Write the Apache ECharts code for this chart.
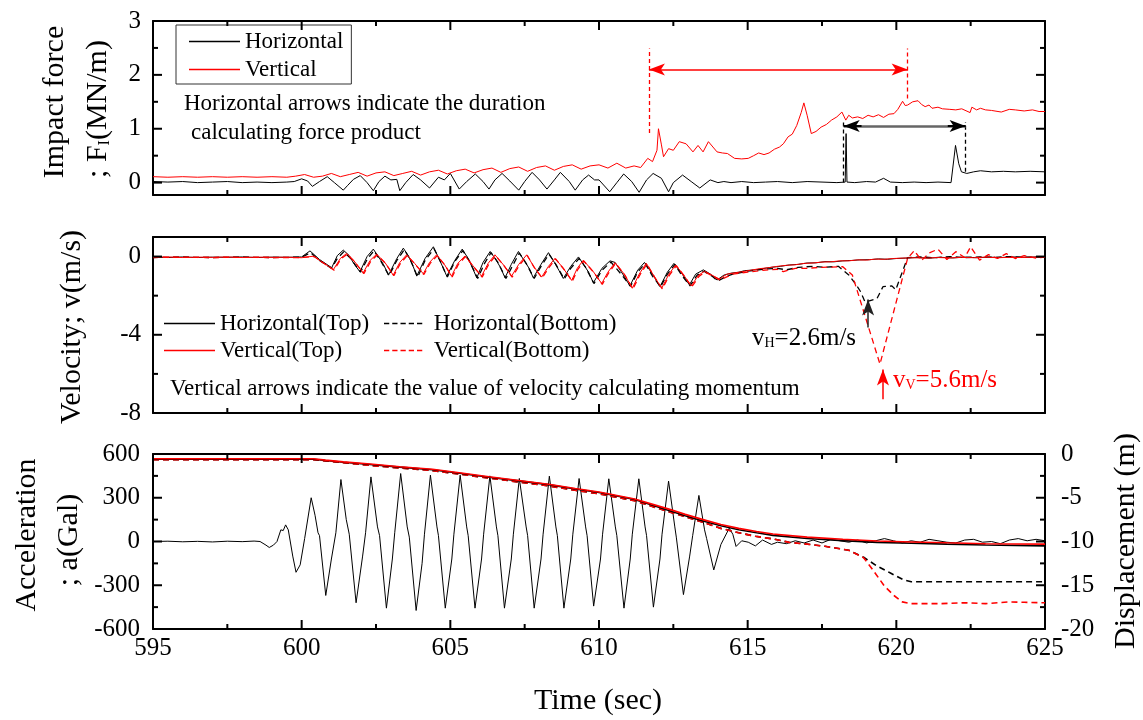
<!DOCTYPE html>
<html><head><meta charset="utf-8">
<script src="https://cdn.jsdelivr.net/npm/echarts@6/dist/echarts.min.js"></script>
<style>html,body{margin:0;padding:0;background:#fff}#c{width:1143px;height:720px}</style>
</head><body><div id="c"></div>
<script>
const FONT = '"Liberation Serif", "Times New Roman", serif';

// ---------- tick values / labels ----------
const timeRange = [595, 625];
const timeMajorTicks = [595, 600, 605, 610, 615, 620, 625];
const timeMinorTicks = [597.5, 602.5, 607.5, 612.5, 617.5, 622.5];
const forceTicks = [0, 1, 2, 3];
const forceMinorTicks = [0.5, 1.5, 2.5];
const velTicks = [-8, -4, 0];
const velMinorTicks = [-6, -2];
const accelTicks = [-600, -300, 0, 300, 600];
const accelMinorTicks = [-450, -150, 150, 450];
const dispTicks = [-20, -15, -10, -5, 0];
const dispMinorTicks = [-17.5, -12.5, -7.5, -2.5];

// ---------- Panel 1: impact force (MN/m) ----------
const forceH = [[595,0.02],[595.5,0.01],[596,0.02],[596.5,0.0],[597,0.01],[597.5,0.02],[598,0.0],[598.5,0.01],[599,0.0],[599.5,0.01],[599.75,0.02],
[600.0,0.07],[600.2,0.03],[600.36,-0.07],[600.6,0.02],[600.86,0.11],[601.1,0.0],[601.4,-0.14],[601.55,-0.05],[601.74,0.06],[601.97,0.13],[602.2,0.0],[602.41,-0.15],[602.6,0.02],[602.8,0.12],[603.0,0.05],[603.2,0.06],[603.3,-0.15],[603.5,0.0],[603.75,0.15],[604.0,0.05],[604.3,-0.1],[604.6,0.1],[604.8,0.05],[605.0,0.17],[605.3,-0.12],[605.55,0.02],[605.84,0.16],[606.1,0.02],[606.3,-0.12],[606.5,0.05],[606.74,0.17],[607.0,0.03],[607.3,-0.14],[607.5,0.02],[607.75,0.19],[608.0,0.05],[608.25,-0.12],[608.5,0.05],[608.7,0.19],[609.0,0.02],[609.2,-0.14],[609.45,0.05],[609.65,0.14],[609.85,0.05],[610.0,0.05],[610.36,-0.17],[610.6,0.0],[610.83,0.16],[611.1,0.02],[611.35,-0.18],[611.6,0.05],[611.82,0.17],[612.1,0.08],[612.34,-0.17],[612.5,0.0],[612.81,0.14],[613.1,0.02],[613.39,-0.1],[613.74,0.05],[614.0,0.0],[614.2,0.02],[614.44,0.0],[614.8,0.02],[615.2,0.0],[615.6,0.01],[616.0,0.02],[616.5,0.0],[617.0,0.02],[617.5,0.01],[618.0,0.0],[618.28,0.01],[618.31,0.91],[618.34,0.01],[618.6,0.0],[619.0,0.02],[619.3,0.01],[619.57,0.08],[619.8,0.01],[620.2,0.0],[620.6,0.01],[621.0,0.0],[621.4,0.01],[621.84,0.0],[621.99,0.69],[622.1,0.35],[622.19,0.2],[622.37,0.17],[622.6,0.2],[622.83,0.22],[623.2,0.2],[623.6,0.21],[624.0,0.2],[624.5,0.21],[625,0.2]];

const forceV = [[595,0.11],[595.5,0.1],[596,0.11],[596.5,0.1],[597,0.11],[597.5,0.1],[598,0.11],[598.5,0.1],[599,0.11],[599.5,0.1],[599.8,0.12],[600.1,0.15],[600.4,0.1],[600.7,0.12],[601.0,0.17],[601.3,0.11],[601.6,0.15],[601.9,0.19],[602.2,0.12],[602.5,0.18],[602.8,0.2],[603.1,0.13],[603.4,0.17],[603.7,0.21],[604.0,0.14],[604.3,0.2],[604.6,0.23],[604.9,0.16],[605.2,0.22],[605.5,0.25],[605.8,0.18],[606.1,0.24],[606.4,0.27],[606.7,0.19],[607.0,0.26],[607.3,0.29],[607.6,0.21],[607.9,0.28],[608.2,0.31],[608.5,0.23],[608.8,0.3],[609.1,0.33],[609.4,0.25],[609.7,0.31],[610.0,0.33],[610.3,0.27],[610.6,0.36],[610.9,0.27],[611.18,0.31],[611.4,0.28],[611.64,0.45],[611.8,0.39],[611.95,0.6],[612.0,1.0],[612.1,0.7],[612.17,0.48],[612.34,0.63],[612.5,0.6],[612.7,0.76],[612.93,0.72],[613.16,0.57],[613.33,0.69],[613.5,0.57],[613.68,0.76],[613.97,0.57],[614.15,0.55],[614.32,0.54],[614.56,0.45],[614.8,0.44],[615.02,0.45],[615.2,0.5],[615.37,0.55],[615.55,0.52],[615.72,0.55],[615.9,0.62],[616.07,0.66],[616.2,0.72],[616.36,0.85],[616.5,0.9],[616.65,1.06],[616.8,1.3],[616.89,1.48],[617.0,1.25],[617.14,0.91],[617.3,0.95],[617.47,1.03],[617.65,1.08],[617.82,1.16],[618.0,1.22],[618.17,1.31],[618.3,1.16],[618.4,1.25],[618.52,1.2],[618.7,1.22],[618.87,1.19],[619.05,1.25],[619.22,1.22],[619.4,1.26],[619.57,1.21],[619.75,1.27],[619.92,1.28],[620.05,1.36],[620.21,1.51],[620.3,1.43],[620.38,1.44],[620.55,1.5],[620.73,1.52],[620.85,1.45],[620.97,1.41],[621.1,1.44],[621.2,1.38],[621.4,1.4],[621.55,1.37],[621.8,1.36],[622.0,1.35],[622.2,1.37],[622.48,1.3],[622.54,1.4],[622.7,1.35],[622.83,1.38],[623.0,1.35],[623.2,1.34],[623.53,1.31],[623.8,1.36],[624.0,1.35],[624.3,1.33],[624.58,1.35],[624.8,1.32],[625,1.32]];

// annotation positions (time, force) for the duration arrows
const durV = {t0: 611.68, t1: 620.38, y: 2.1, top: 2.49, base0: 0.92, base1: 1.56};
const durH = {t0: 618.23, t1: 622.33, y: 1.05, top: 1.12, base0: 0.0, base1: 0.2};

// ---------- Panel 2: velocity (m/s) ----------
const velHTop = [[595,-0.03],[595.5,-0.05],[596,-0.02],[596.5,-0.05],[597,-0.03],[597.5,-0.04],[598,-0.02],[598.5,-0.05],[599,-0.03],[599.5,-0.04],[600,-0.02],[600.28,0.29],[600.6,-0.15],[601.01,-0.57],[601.2,0.05],[601.4,0.33],[601.6,0.05],[601.75,-0.35],[601.96,-0.78],[602.2,0.0],[602.41,0.38],[602.6,-0.05],[602.75,-0.4],[602.92,-0.95],[603.2,-0.1],[603.42,0.43],[603.6,0.0],[603.75,-0.5],[603.87,-1.0],[604.15,-0.1],[604.43,0.5],[604.6,-0.05],[604.75,-0.55],[604.88,-1.0],[605.15,-0.2],[605.4,0.38],[605.6,-0.1],[605.75,-0.6],[605.89,-1.09],[606.1,-0.3],[606.34,0.26],[606.55,-0.2],[606.7,-0.6],[606.84,-1.09],[607.05,-0.4],[607.29,0.26],[607.5,-0.25],[607.65,-0.6],[607.79,-1.09],[608.05,-0.4],[608.3,0.2],[608.5,-0.3],[608.65,-0.7],[608.8,-1.12],[609.05,-0.5],[609.31,-0.02],[609.5,-0.45],[609.65,-0.8],[609.81,-1.34],[610.1,-0.6],[610.37,-0.22],[610.54,-0.3],[610.8,-0.9],[611.04,-1.5],[611.3,-0.7],[611.53,-0.3],[611.8,-0.9],[612.05,-1.54],[612.3,-0.8],[612.52,-0.35],[612.8,-0.9],[613.04,-1.45],[613.25,-0.9],[613.51,-0.68],[613.75,-0.9],[613.97,-1.2],[614.2,-0.95],[614.44,-0.85],[614.7,-0.8],[614.9,-0.72],[615.26,-0.68],[615.5,-0.62],[615.8,-0.55],[616.1,-0.5],[616.4,-0.43],[616.7,-0.4],[617.0,-0.33],[617.3,-0.32],[617.6,-0.26],[617.9,-0.27],[618.2,-0.22],[618.5,-0.2],[618.75,-0.17],[619.1,-0.16],[619.4,-0.12],[619.7,-0.14],[620.0,-0.1],[620.3,-0.08],[620.7,-0.05],[621.1,-0.08],[621.5,-0.04],[621.9,-0.07],[622.3,-0.03],[622.7,-0.06],[623.1,-0.03],[623.5,-0.05],[623.9,-0.02],[624.3,-0.04],[624.7,-0.02],[625,-0.03]];

const velHBot = [[595,-0.05],[596,-0.03],[597,-0.05],[598,-0.03],[599,-0.05],[600,-0.03],[600.3,0.2],[600.6,-0.2],[601.0,-0.6],[601.2,-0.1],[601.42,0.25],[601.65,-0.1],[601.98,-0.8],[602.2,-0.15],[602.43,0.3],[602.65,-0.2],[602.94,-0.98],[603.2,-0.2],[603.45,0.35],[603.65,-0.15],[603.9,-1.05],[604.15,-0.2],[604.45,0.4],[604.65,-0.2],[604.9,-1.05],[605.15,-0.25],[605.42,0.3],[605.65,-0.25],[605.92,-1.12],[606.15,-0.35],[606.37,0.2],[606.6,-0.3],[606.87,-1.12],[607.1,-0.45],[607.32,0.18],[607.55,-0.35],[607.82,-1.12],[608.05,-0.5],[608.32,0.12],[608.55,-0.4],[608.83,-1.15],[609.05,-0.6],[609.33,-0.1],[609.55,-0.55],[609.83,-1.38],[610.1,-0.7],[610.4,-0.28],[610.8,-1.0],[611.06,-1.52],[611.3,-0.8],[611.55,-0.35],[611.8,-1.0],[612.07,-1.55],[612.3,-0.9],[612.55,-0.4],[612.8,-1.0],[613.06,-1.5],[613.3,-0.95],[613.53,-0.75],[613.8,-1.0],[614.0,-1.25],[614.3,-1.0],[614.5,-0.9],[615.0,-0.75],[615.5,-0.65],[616.0,-0.6],[616.3,-0.68],[616.7,-0.55],[617.2,-0.5],[617.6,-0.55],[618.05,-0.5],[618.4,-0.94],[618.65,-1.45],[618.8,-1.8],[618.95,-2.33],[619.35,-2.15],[619.55,-1.54],[619.85,-1.5],[619.98,-1.7],[620.38,-0.05],[620.8,-0.02],[621.3,-0.06],[621.8,0.0],[622.3,-0.05],[622.8,-0.02],[623.3,-0.04],[623.8,0.0],[624.3,-0.03],[625,-0.02]];

const velVTop = [[595,-0.03],[595.5,-0.02],[596,-0.05],[596.5,-0.03],[597,-0.04],[597.5,-0.02],[598,-0.05],[598.5,-0.03],[599,-0.04],[599.5,-0.03],[600,-0.06],[600.4,0.02],[600.7,-0.3],[601.07,-0.66],[601.3,-0.1],[601.51,0.16],[601.75,-0.2],[602.07,-0.83],[602.3,-0.2],[602.52,0.12],[602.8,-0.3],[603.08,-0.95],[603.3,-0.3],[603.53,0.09],[603.8,-0.35],[604.09,-0.88],[604.3,-0.3],[604.54,0.09],[604.8,-0.4],[605.04,-1.0],[605.25,-0.35],[605.49,0.03],[605.75,-0.45],[606.05,-1.0],[606.27,-0.35],[606.5,0.09],[606.8,-0.45],[607.06,-1.0],[607.3,-0.4],[607.57,0.09],[607.8,-0.5],[608.07,-1.05],[608.3,-0.5],[608.52,-0.09],[608.8,-0.6],[609.08,-1.22],[609.27,-0.6],[609.47,-0.19],[609.8,-0.75],[610.09,-1.38],[610.3,-0.8],[610.54,-0.31],[610.85,-0.9],[611.12,-1.62],[611.35,-0.9],[611.59,-0.34],[611.85,-1.0],[612.11,-1.62],[612.35,-0.9],[612.58,-0.43],[612.85,-0.95],[613.1,-1.5],[613.35,-0.95],[613.55,-0.75],[613.8,-0.95],[614.05,-1.15],[614.3,-0.9],[614.5,-0.85],[614.8,-0.78],[615.1,-0.7],[615.4,-0.62],[615.7,-0.57],[616.0,-0.5],[616.3,-0.45],[616.6,-0.42],[616.9,-0.35],[617.2,-0.33],[617.5,-0.28],[617.8,-0.27],[618.1,-0.22],[618.4,-0.22],[618.7,-0.17],[619.0,-0.18],[619.3,-0.13],[619.6,-0.14],[619.9,-0.1],[620.2,-0.08],[620.6,-0.06],[621.0,-0.08],[621.4,-0.05],[621.8,-0.07],[622.2,-0.04],[622.6,-0.06],[623.0,-0.03],[623.4,-0.06],[623.8,-0.04],[624.2,-0.05],[624.6,-0.03],[625,-0.04]];

const velVBot = [[595,-0.05],[596,-0.03],[597,-0.05],[598,-0.04],[599,-0.05],[600,-0.05],[600.42,0.0],[600.72,-0.32],[601.09,-0.7],[601.32,-0.12],[601.53,0.12],[601.77,-0.25],[602.09,-0.87],[602.32,-0.25],[602.54,0.08],[602.82,-0.35],[603.1,-0.98],[603.32,-0.35],[603.55,0.05],[603.82,-0.4],[604.11,-0.92],[604.32,-0.35],[604.56,0.05],[604.82,-0.45],[605.06,-1.04],[605.27,-0.4],[605.51,0.0],[605.77,-0.5],[606.07,-1.05],[606.29,-0.4],[606.52,0.05],[606.82,-0.5],[607.08,-1.05],[607.32,-0.45],[607.59,0.05],[607.82,-0.55],[608.09,-1.1],[608.32,-0.55],[608.54,-0.12],[608.82,-0.65],[609.1,-1.26],[609.29,-0.65],[609.49,-0.23],[609.82,-0.8],[610.11,-1.42],[610.32,-0.85],[610.56,-0.35],[610.87,-0.95],[611.14,-1.66],[611.37,-0.95],[611.61,-0.38],[611.87,-1.05],[612.13,-1.65],[612.37,-0.95],[612.6,-0.47],[612.87,-1.0],[613.12,-1.55],[613.37,-1.0],[613.57,-0.8],[613.82,-1.0],[614.07,-1.2],[614.5,-0.9],[615.0,-0.8],[615.5,-0.7],[616.0,-0.65],[616.2,-0.77],[616.6,-0.6],[617.0,-0.6],[617.5,-0.55],[618.2,-0.52],[618.52,-0.94],[619.45,-5.5],[620.38,-0.09],[620.6,0.3],[620.85,-0.2],[621.1,0.18],[621.4,0.38],[621.7,-0.15],[622.0,0.25],[622.3,-0.05],[622.5,0.5],[622.8,-0.18],[623.1,0.1],[623.4,-0.1],[623.7,0.15],[624.0,-0.1],[624.3,0.05],[624.7,-0.08],[625,-0.03]];

// peak-velocity arrows (time, tail velocity, tip velocity)
const arrowVH = {t: 619.05, from: -3.63, to: -2.2};
const arrowVV = {t: 619.55, from: -7.3, to: -5.78};

// ---------- Panel 3: acceleration (Gal) & displacement (m) ----------
const accel = [[595,0],[595.5,2],[596,-2],[596.5,1],[597,-3],[597.5,2],[598,-1],[598.4,3],[598.6,0],[598.8,-25],[598.91,-41],[599.05,-25],[599.17,0],[599.3,80],[599.38,75],[599.46,114],[599.55,80],[599.7,-100],[599.81,-211],[599.95,-160],[600.1,20],[600.32,300],[600.45,180],[600.55,60],[600.6,40],[600.81,-370],[601.0,-120],[601.15,60],[601.32,425],[601.5,150],[601.6,50],[601.83,-420],[602.05,-100],[602.15,60],[602.33,443],[602.55,100],[602.62,40],[602.85,-457],[603.05,-120],[603.13,60],[603.33,466],[603.55,100],[603.62,30],[603.85,-473],[604.05,-150],[604.13,50],[604.33,455],[604.55,100],[604.6,40],[604.83,-457],[605.05,-120],[605.12,50],[605.33,455],[605.55,100],[605.6,40],[605.83,-457],[606.05,-120],[606.12,50],[606.33,450],[606.55,100],[606.6,40],[606.82,-457],[607.05,-120],[607.12,50],[607.32,432],[607.55,100],[607.6,40],[607.82,-457],[608.05,-120],[608.12,50],[608.33,448],[608.55,100],[608.6,40],[608.82,-457],[609.05,-120],[609.12,50],[609.33,432],[609.55,100],[609.6,40],[609.82,-443],[610.05,-120],[610.12,50],[610.33,430],[610.55,100],[610.6,40],[610.84,-457],[611.05,-120],[611.12,50],[611.34,430],[611.55,100],[611.6,40],[611.83,-450],[612.05,-120],[612.12,50],[612.34,414],[612.55,100],[612.6,30],[612.84,-364],[613.05,-100],[613.15,40],[613.36,316],[613.55,80],[613.62,20],[613.86,-195],[614.1,-20],[614.38,91],[614.5,50],[614.61,-34],[614.8,5],[615.02,-5],[615.26,-30],[615.5,10],[615.8,-20],[616.0,-5],[616.3,-15],[616.6,5],[616.9,-10],[617.2,10],[617.5,-10],[617.8,15],[618.1,5],[618.4,-5],[618.7,10],[619.0,-10],[619.3,5],[619.6,20],[619.9,5],[620.2,-10],[620.5,5],[620.8,-5],[621.1,15],[621.4,5],[621.7,-5],[622.0,-10],[622.3,10],[622.6,15],[622.9,-5],[623.2,0],[623.5,-15],[623.8,10],[624.1,20],[624.4,5],[624.7,15],[625,5]];

const dispHTop = [[595,-0.6],[600.4,-0.6],[600.8,-0.75],[601.4,-0.95],[602.3,-1.2],[603.3,-1.5],[604.4,-1.8],[605.3,-2.2],[606.3,-2.65],[607.3,-3.07],[608.3,-3.5],[609.2,-4.0],[610,-4.4],[610.6,-4.8],[611.2,-5.2],[611.75,-5.8],[612.35,-6.45],[612.9,-7.05],[613.5,-7.65],[614.1,-8.2],[614.7,-8.65],[615.3,-9.0],[615.85,-9.3],[617,-9.65],[618.2,-9.9],[619.35,-10.1],[620.5,-10.2],[621.7,-10.3],[623,-10.4],[625,-10.5]];
const dispVTop = [[595,-0.55],[600.4,-0.55],[600.8,-0.7],[601.4,-0.9],[602.3,-1.15],[603.3,-1.45],[604.4,-1.75],[605.3,-2.15],[606.3,-2.6],[607.3,-3.02],[608.3,-3.45],[609.2,-3.95],[610,-4.35],[610.6,-4.75],[611.2,-5.15],[611.75,-5.7],[612.35,-6.3],[612.9,-6.9],[613.5,-7.5],[614.1,-8.05],[614.7,-8.5],[615.3,-8.85],[615.85,-9.15],[617,-9.5],[618.2,-9.75],[619.35,-9.95],[620.5,-10.05],[621.7,-10.15],[623,-10.25],[625,-10.3]];
const dispHBot = [[595,-0.65],[600.4,-0.65],[601.4,-1.0],[602.3,-1.3],[603.3,-1.6],[604.4,-1.9],[605.3,-2.3],[606.3,-2.75],[607.3,-3.2],[608.3,-3.65],[609.2,-4.15],[610,-4.55],[611.2,-5.35],[612.35,-6.6],[613.5,-7.8],[614.1,-8.5],[614.7,-9.0],[615.26,-9.4],[615.84,-9.7],[616.4,-10.1],[617.0,-10.3],[617.6,-10.55],[618.4,-11.0],[618.9,-11.8],[619.35,-12.8],[619.8,-13.6],[620.25,-14.4],[620.5,-14.6],[622,-14.6],[625,-14.6]];
const dispVBot = [[595,-0.65],[600.4,-0.65],[601.4,-1.0],[602.3,-1.3],[603.3,-1.6],[604.4,-1.9],[605.3,-2.3],[606.3,-2.75],[607.3,-3.2],[608.3,-3.65],[609.2,-4.15],[610,-4.55],[611.2,-5.35],[612.35,-6.6],[613.5,-7.8],[614.1,-8.5],[614.7,-9.0],[615.26,-9.4],[615.84,-9.7],[616.4,-10.1],[617.0,-10.3],[617.6,-10.55],[618.4,-11.0],[618.9,-11.85],[619.2,-13.2],[619.6,-15.1],[619.93,-16.2],[620.2,-16.9],[620.5,-17.1],[621.5,-17.1],[622.3,-17.0],[623.0,-17.1],[623.8,-16.9],[624.3,-16.95],[625,-17.0]];

// ---------- build ----------
const BLACK = '#000', RED = '#ff0000';
const MAJOR = 9, MINOR = 5;
const labelStyle = {fontFamily: FONT, fontSize: 25, color: BLACK};
function axLine() { return {show: true, onZero: false, lineStyle: {color: BLACK, width: 2}}; }

function xAx(g, pos, labels) {
  return {type: 'value', gridIndex: g, position: pos, min: timeRange[0], max: timeRange[1], interval: 5,
    axisLine: axLine(), splitLine: {show: false}, axisTick: {show: false}, minorTick: {show: false},
    axisLabel: Object.assign({show: labels, margin: 7}, labelStyle)};
}
function yAx(g, pos, min, max, labels, margin) {
  return {type: 'value', gridIndex: g, position: pos, min: min, max: max,
    axisLine: axLine(), splitLine: {show: false}, axisTick: {show: false}, minorTick: {show: false},
    axisLabel: labels ? Object.assign({show: true, customValues: labels, margin: margin}, labelStyle) : {show: false}};
}
function line(name, data, xi, yi, color, dashed, width) {
  return {name: name, type: 'line', data: data, xAxisIndex: xi, yAxisIndex: yi, symbol: 'none', showSymbol: false,
    animation: false,
    lineStyle: {color: color, width: width || 1, type: dashed ? [6, 4] : 'solid'},
    itemStyle: {color: color}};
}
function seg(a, b, color, style, s0, s1, width) {
  return [{coord: a, symbol: s0 || 'none', lineStyle: {color: color, type: style, width: width || 1.3}, itemStyle: {color: color}},
          {coord: b, symbol: s1 || 'none'}];
}
// tick marks drawn inside the frame through the axes' scales.
// item = [kind, value, length]; kind 0: time tick (bottom+top), 1: left, 2: right, 3: left+right
function tickItems(kind, values, len) { return values.map(v => [kind, v, len]); }
function tickSeries(xi, yi, yMin, yMax, items) {
  return {type: 'custom', name: 'ticks' + yi, xAxisIndex: xi, yAxisIndex: yi, data: items,
    clip: false, silent: true, animation: false, z: 6,
    renderItem: function (params, api) {
      const kind = api.value(0), v = api.value(1), len = api.value(2);
      const st = {stroke: BLACK, lineWidth: 2};
      const kids = [];
      if (kind === 0) {
        const b = api.coord([v, yMin]), t = api.coord([v, yMax]);
        kids.push({type: 'line', shape: {x1: b[0], y1: b[1], x2: b[0], y2: b[1] - len}, style: st});
        kids.push({type: 'line', shape: {x1: t[0], y1: t[1], x2: t[0], y2: t[1] + len}, style: st});
      } else {
        const l = api.coord([timeRange[0], v]), r = api.coord([timeRange[1], v]);
        if (kind === 1 || kind === 3) kids.push({type: 'line', shape: {x1: l[0], y1: l[1], x2: l[0] + len, y2: l[1]}, style: st});
        if (kind === 2 || kind === 3) kids.push({type: 'line', shape: {x1: r[0], y1: r[1], x2: r[0] - len, y2: r[1]}, style: st});
      }
      return {type: 'group', children: kids};
    }};
}

const grids = [
  {left: 153, right: 98, top: 21, height: 174},
  {left: 153, right: 98, top: 237, height: 176},
  {left: 153, right: 98, top: 454, height: 175}
].map(g => Object.assign(g, {show: false, containLabel: false}));

const fMin = -0.23, fMax = 3;
const yAxes = [
  yAx(0, 'left', fMin, fMax, forceTicks, 12),   // 0
  yAx(0, 'right', fMin, fMax, null),            // 1
  yAx(1, 'left', -8, 1, velTicks, 12),          // 2
  yAx(1, 'right', -8, 1, null),                 // 3
  yAx(2, 'left', -600, 600, accelTicks, 13),    // 4
  yAx(2, 'right', -20, 0, dispTicks, 16)        // 5
];
const xAxes = [xAx(0, 'bottom', false), xAx(0, 'top', false), xAx(1, 'bottom', false), xAx(1, 'top', false), xAx(2, 'bottom', true), xAx(2, 'top', false)];

const timeTickItems = tickItems(0, timeMajorTicks, MAJOR).concat(tickItems(0, timeMinorTicks, MINOR));

const annot1 = {name: 'annot1', type: 'line', data: [], xAxisIndex: 0, yAxisIndex: 0, animation: false,
  markLine: {silent: true, animation: false, symbolSize: [9, 16], label: {show: false},
    data: [
      seg([durV.t0, durV.base0], [durV.t0, durV.top], RED, [4, 3]),
      seg([durV.t1, durV.base1], [durV.t1, durV.top], RED, [4, 3]),
      seg([durV.t0, durV.y], [durV.t1, durV.y], RED, 'solid', 'arrow', 'arrow', 1.5),
      seg([durH.t0, durH.base0], [durH.t0, durH.top], BLACK, [4, 3]),
      seg([durH.t1, durH.base1], [durH.t1, durH.top], BLACK, [4, 3]),
      seg([durH.t0, durH.y], [durH.t1, durH.y], '#666', 'solid', 'none', 'none', 2.5),
      seg([durH.t0 + 0.6, durH.y], [durH.t0, durH.y], BLACK, 'solid', 'none', 'arrow', 2),
      seg([durH.t1 - 0.6, durH.y], [durH.t1, durH.y], BLACK, 'solid', 'none', 'arrow', 2)
    ]}};
const annot2 = {name: 'annot2', type: 'line', data: [], xAxisIndex: 2, yAxisIndex: 2, animation: false,
  markLine: {silent: true, animation: false, symbolSize: [9, 16], label: {show: false},
    data: [
      seg([arrowVH.t, arrowVH.from], [arrowVH.t, arrowVH.to], '#222', 'solid', 'none', 'arrow', 1.5),
      seg([arrowVV.t, arrowVV.from], [arrowVV.t, arrowVV.to], RED, 'solid', 'none', 'arrow', 1.5)
    ]}};

const series = [
  line('Horizontal', forceH, 0, 0, BLACK, false),
  line('Vertical', forceV, 0, 0, RED, false),
  annot1,
  line('Horizontal(Top)', velHTop, 2, 2, BLACK, false),
  line('Horizontal(Bottom)', velHBot, 2, 2, BLACK, true, 1.3),
  line('Vertical(Top)', velVTop, 2, 2, RED, false),
  line('Vertical(Bottom)', velVBot, 2, 2, RED, true, 1.3),
  annot2,
  line('accel', accel, 4, 4, BLACK, false),
  line('dHB', dispHBot, 4, 5, BLACK, true, 1.6),
  line('dVB', dispVBot, 4, 5, RED, true, 1.6),
  line('dHT', dispHTop, 4, 5, BLACK, false, 1.6),
  line('dVT', dispVTop, 4, 5, RED, false, 1.6),
  tickSeries(0, 0, fMin, fMax, timeTickItems.concat(tickItems(3, forceTicks, MAJOR), tickItems(3, forceMinorTicks, MINOR))),
  tickSeries(2, 2, -8, 1, timeTickItems.concat(tickItems(3, velTicks, MAJOR), tickItems(3, velMinorTicks, MINOR))),
  tickSeries(4, 4, -600, 600, timeTickItems.concat(tickItems(1, accelTicks, MAJOR), tickItems(1, accelMinorTicks, MINOR))),
  tickSeries(4, 5, -20, 0, tickItems(2, dispTicks, MAJOR).concat(tickItems(2, dispMinorTicks, MINOR)))
];

const SOLID_ICON = 'rect';
const DASH_ICON = 'path://M0,0h7v2h-7zM11,0h7v2h-7zM22,0h7v2h-7zM33,0h7v2h-7zM44,0h7v2h-7z';
const legendText = {fontFamily: FONT, fontSize: 23, color: BLACK};
const legendCommon = {orient: 'vertical', itemWidth: 51, itemHeight: 1.5, textStyle: legendText, selectedMode: false};
const legends = [
  Object.assign({data: [{name: 'Horizontal', icon: SOLID_ICON}, {name: 'Vertical', icon: SOLID_ICON}],
    left: 176, top: 25, padding: [5, 8, 3, 13], itemGap: 5, borderColor: '#333', borderWidth: 1}, legendCommon),
  Object.assign({data: [{name: 'Horizontal(Top)', icon: SOLID_ICON}, {name: 'Vertical(Top)', icon: SOLID_ICON}],
    left: 159, top: 312, padding: [0, 5, 0, 5], itemGap: 4}, legendCommon),
  Object.assign({data: [{name: 'Horizontal(Bottom)', icon: DASH_ICON}, {name: 'Vertical(Bottom)', icon: DASH_ICON}],
    left: 379, top: 312, padding: [0, 5, 0, 5], itemGap: 4}, legendCommon)
];

function txt(x, y, text, size, opts) {
  opts = opts || {};
  return {type: 'text', x: x, y: y, rotation: opts.rot || 0, silent: true,
    style: {text: text, fontFamily: FONT, fontSize: size, fill: opts.color || BLACK,
      align: opts.align || 'left', verticalAlign: 'middle', rich: opts.rich}};
}
function subRich(size, subSize, pad, color) {
  return {m: {fontFamily: FONT, fontSize: size, lineHeight: size, verticalAlign: 'top', color: color},
          s: {fontFamily: FONT, fontSize: subSize, lineHeight: subSize, verticalAlign: 'bottom', padding: [pad, 0, 0, 0], color: color}};
}
const ROT = Math.PI / 2;
const graphics = [
  txt(598, 701, 'Time (sec)', 30, {align: 'center'}),
  txt(55, 102, 'Impact force', 30, {align: 'center', rot: ROT}),
  txt(98, 109, '{m|; F}{s|I}{m|(MN/m)}', 30, {align: 'center', rot: ROT, rich: subRich(30, 16, 24, BLACK)}),
  txt(72, 327, 'Velocity; v(m/s)', 30, {align: 'center', rot: ROT}),
  txt(27, 535, 'Acceleration', 30, {align: 'center', rot: ROT}),
  txt(69, 540, '; a(Gal)', 30, {align: 'center', rot: ROT}),
  txt(1126, 541, 'Displacement (m)', 30, {align: 'center', rot: ROT}),
  txt(184, 104, 'Horizontal arrows indicate the duration', 23),
  txt(191, 133, 'calculating force product', 23),
  txt(170, 389, 'Vertical arrows indicate the value of velocity calculating momentum', 23),
  txt(752, 338, '{m|v}{s|H}{m|=2.6m/s}', 25, {rich: subRich(25, 14, 20, BLACK)}),
  txt(893, 380, '{m|v}{s|V}{m|=5.6m/s}', 25, {color: RED, rich: subRich(25, 14, 20, RED)})
];

const chart = echarts.init(document.getElementById('c'), null, {renderer: 'canvas'});
chart.setOption({
  animation: false,
  backgroundColor: '#fff',
  textStyle: {fontFamily: FONT},
  grid: grids,
  xAxis: xAxes,
  yAxis: yAxes,
  legend: legends,
  series: series,
  graphic: graphics
});
</script></body></html>
